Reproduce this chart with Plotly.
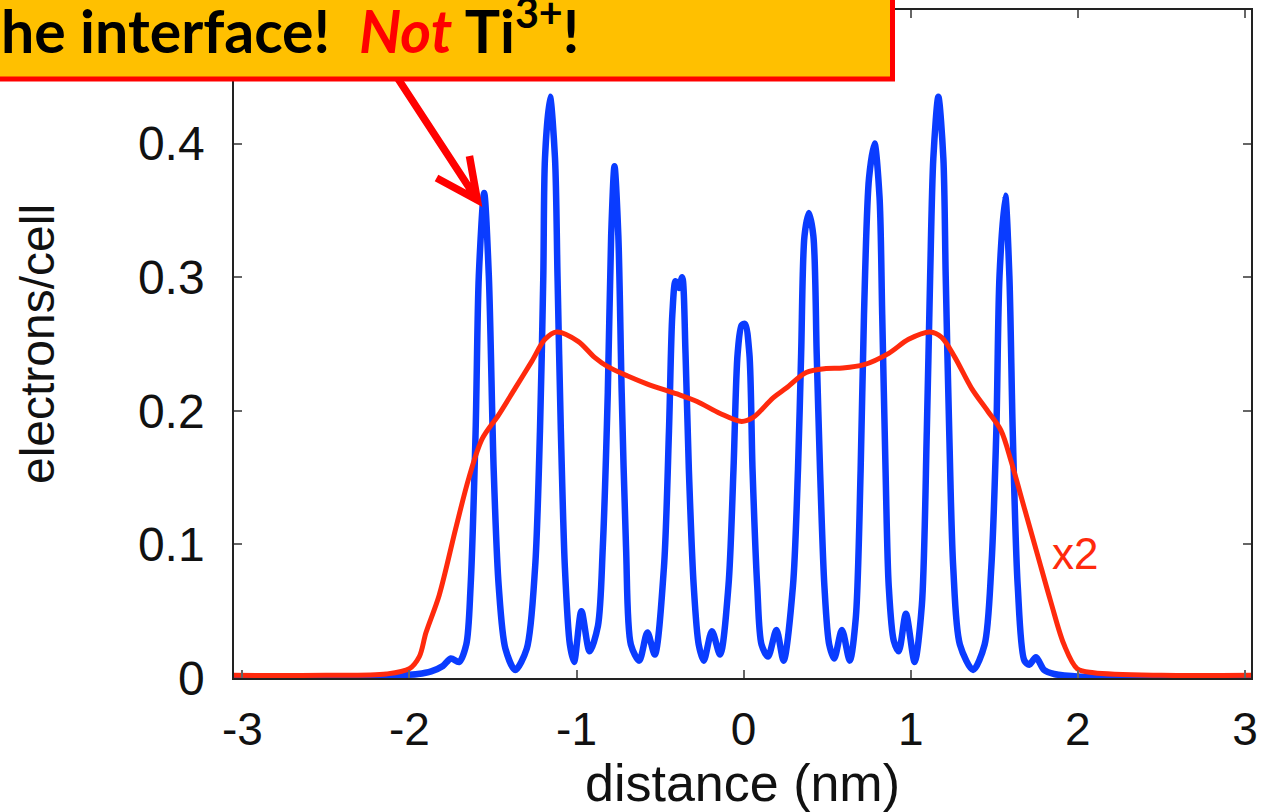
import plotly.graph_objects as go

# ---- data ----
dist_blue = [-3.05, -2.5, -2.2, -2.06, -1.95, -1.87, -1.80, -1.752, -1.703, -1.66, -1.634, -1.604, -1.585,
             -1.553, -1.525, -1.496, -1.466, -1.426, -1.367, -1.298, -1.248, -1.219, -1.199, -1.189, -1.159,
             -1.129, -1.114, -1.094, -1.070, -1.040, -1.015, -0.971, -0.922, -0.872, -0.843, -0.813, -0.793,
             -0.773, -0.750, -0.730, -0.704, -0.675, -0.625, -0.576, -0.532, -0.477, -0.447, -0.427, -0.408,
             -0.388, -0.368, -0.348, -0.328, -0.299, -0.269, -0.239, -0.190, -0.141, -0.091, -0.061, -0.036,
             -0.012, 0.008, 0.034, 0.053, 0.081, 0.107, 0.146, 0.196, 0.239, 0.295, 0.325, 0.344, 0.364,
             0.390, 0.417, 0.437, 0.457, 0.483, 0.512, 0.542, 0.588, 0.635, 0.671, 0.700, 0.720, 0.750,
             0.783, 0.813, 0.829, 0.849, 0.868, 0.898, 0.928, 0.971, 1.023, 1.066, 1.096, 1.116, 1.135,
             1.165, 1.195, 1.209, 1.230, 1.254, 1.294, 1.373, 1.442, 1.482, 1.512, 1.531, 1.565, 1.590,
             1.610, 1.640, 1.680, 1.709, 1.749, 1.798, 1.858, 2.016, 2.5, 3.04]
elec_blue = [0.001, 0.001, 0.001, 0.002, 0.003, 0.005, 0.009, 0.0146, 0.012, 0.025, 0.069, 0.185, 0.301,
             0.363, 0.301, 0.156, 0.069, 0.022, 0.006, 0.022, 0.083, 0.185, 0.301, 0.389, 0.435,
             0.389, 0.301, 0.185, 0.083, 0.025, 0.012, 0.050, 0.020, 0.039, 0.098, 0.214, 0.331,
             0.383, 0.331, 0.214, 0.098, 0.025, 0.013, 0.034, 0.0175, 0.083, 0.185, 0.272, 0.297,
             0.292, 0.300, 0.243, 0.156, 0.069, 0.025, 0.013, 0.035, 0.0175, 0.069, 0.156, 0.243,
             0.264, 0.265, 0.243, 0.156, 0.069, 0.025, 0.016, 0.036, 0.013, 0.069, 0.156, 0.243, 0.331,
             0.348, 0.331, 0.243, 0.156, 0.069, 0.025, 0.0146, 0.036, 0.013, 0.045, 0.156, 0.272, 0.374,
             0.400, 0.360, 0.272, 0.156, 0.069, 0.028, 0.020, 0.048, 0.012, 0.054, 0.185, 0.301, 0.389,
             0.435, 0.389, 0.301, 0.185, 0.083, 0.025, 0.006, 0.025, 0.083, 0.185, 0.301, 0.361, 0.301,
             0.185, 0.069, 0.013, 0.010, 0.0155, 0.006, 0.003, 0.001, 0.001, 0.001]

dist_red = [-3.05, -2.5, -2.138, -2.0, -1.941, -1.901, -1.822, -1.723, -1.644, -1.565, -1.466, -1.367,
            -1.268, -1.189, -1.120, -0.991, -0.892, -0.813, -0.694, -0.576, -0.398, -0.279, -0.141,
            -0.012, 0.057, 0.176, 0.255, 0.374, 0.493, 0.592, 0.720, 0.868, 0.987, 1.116, 1.185,
            1.264, 1.363, 1.462, 1.541, 1.601, 1.680, 1.759, 1.838, 1.917, 1.996, 2.095, 2.5, 3.04]
elec_red_x2 = [0.002, 0.002, 0.003, 0.007, 0.016, 0.034, 0.062, 0.112, 0.150, 0.179, 0.197, 0.217,
               0.237, 0.2535, 0.259, 0.252, 0.240, 0.233, 0.226, 0.220, 0.2126, 0.207, 0.198,
               0.192, 0.195, 0.2097, 0.217, 0.2286, 0.2316, 0.232, 0.2345, 0.243, 0.2535, 0.259, 0.255,
               0.240, 0.217, 0.1995, 0.185, 0.162, 0.127, 0.092, 0.057, 0.025, 0.007, 0.004, 0.002, 0.002]

x_ticks = [-3, -2, -1, 0, 1, 2, 3]
x_tick_labels = ["-3", "-2", "-1", "0", "1", "2", "3"]
y_ticks = [0, 0.1, 0.2, 0.3, 0.4]
y_tick_labels = ["0", "0.1", "0.2", "0.3", "0.4"]

BLUE = "#0a3cff"
RED = "#ff2a0d"
AXIS_FONT = "Liberation Sans, Arial, Helvetica, sans-serif"

fig = go.Figure()
fig.add_trace(go.Scatter(x=dist_blue, y=elec_blue, mode="lines",
                         line=dict(color=BLUE, width=6.5, shape="spline", smoothing=0.8),
                         showlegend=False, hoverinfo="skip"))
fig.add_trace(go.Scatter(x=dist_red, y=elec_red_x2, mode="lines",
                         line=dict(color=RED, width=5, shape="spline", smoothing=0.9),
                         showlegend=False, hoverinfo="skip"))

axis_common = dict(showgrid=False, zeroline=False, showline=True, linecolor="#222222", linewidth=1.5,
                   mirror="allticks", ticks="inside", ticklen=8, tickwidth=1.5, tickcolor="#666666")

fig.update_layout(
    width=1264, height=812,
    margin=dict(l=234, r=6, t=10, b=134),
    paper_bgcolor="white", plot_bgcolor="white",
    xaxis=dict(range=[-3.05, 3.036], tickvals=x_ticks, ticktext=x_tick_labels,
               ticklabelstandoff=10,
               tickfont=dict(family=AXIS_FONT, size=46, color="#111111"),
               title=dict(text="distance (nm)", font=dict(family=AXIS_FONT, size=52, color="#111111"),
                          standoff=2),
               **axis_common),
    yaxis=dict(range=[0, 0.5], tickvals=y_ticks, ticktext=y_tick_labels,
               ticklabelstandoff=18,
               tickfont=dict(family=AXIS_FONT, size=48, color="#111111"),
               title=dict(text="electrons/cell", font=dict(family=AXIS_FONT, size=48, color="#111111"),
                          standoff=68),
               **axis_common),
)

# "x2" label for the red curve
fig.add_annotation(x=1.98, y=0.093, xref="x", yref="y", text="x2", showarrow=False,
                   font=dict(family=AXIS_FONT, size=44, color=RED), xanchor="center", yanchor="middle")

# red arrow (open head) pointing at the first peak
fig.add_shape(type="path", xref="x", yref="y", layer="above",
              path="M -2.081 0.451 L -1.594 0.3578 M -1.641 0.3907 L -1.594 0.3578 L -1.838 0.3743",
              line=dict(color="#ff0000", width=7.5))

# callout box (cut off at the top-left edge of the image)
fig.add_shape(type="rect", xref="paper", yref="paper", layer="above",
              x0=-0.2383, x1=0.6475, y0=0.8967, y1=1.03,
              fillcolor="#ffc000", line=dict(color="#ff0000", width=5))
fig.add_annotation(xref="paper", yref="paper", x=-0.2314, y=0.976, xanchor="left", yanchor="middle",
                   showarrow=False,
                   text="he interface!\u00a0\u00a0<span style='color:#ff0000'><i>Not</i></span> Ti<sup>3+</sup>!",
                   font=dict(family="Lato, Noto Sans, sans-serif", size=59, color="#000000", weight=700))

fig.write_html("out.html")
